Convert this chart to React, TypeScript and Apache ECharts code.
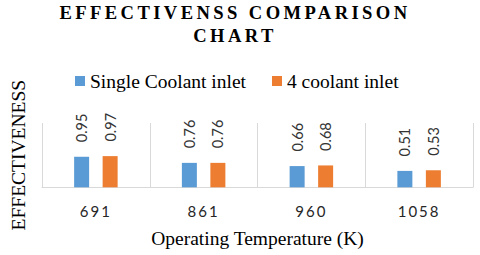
import React, { useEffect, useRef } from "react";
import * as echarts from "echarts";

const titleLines = ["EFFECTIVENSS COMPARISON", "CHART"];
const categories = ["691", "861", "960", "1058"];
const seriesNames = ["Single Coolant inlet", "4 coolant inlet"];
const singleInlet = [0.95, 0.76, 0.66, 0.51];
const fourInlet = [0.97, 0.76, 0.68, 0.53];
const yAxisName = "EFFECTIVENESS";
const xAxisName = "Operating Temperature (K)";

const SERIF = "Liberation Serif";
const SANS = "Lato";

function applySpacing(el: HTMLDivElement) {
  const texts = el.querySelectorAll("svg text");
  texts.forEach((t) => {
    const s = (t.textContent || "").trim();
    if (titleLines.includes(s)) {
      (t as SVGTextElement).style.letterSpacing = "3.4px";
    } else if (categories.includes(s)) {
      (t as SVGTextElement).style.letterSpacing = "2px";
    }
  });
}

export default function App() {
  const ref = useRef<HTMLDivElement>(null);
  useEffect(() => {
    if (!ref.current) return;
    const chart = echarts.init(ref.current, null, { renderer: "svg" });
    const labelCfg = {
      show: true,
      position: "top" as const,
      rotate: 90,
      align: "left" as const,
      verticalAlign: "middle" as const,
      distance: 14.5,
      fontFamily: SANS,
      fontSize: 14.5,
      color: "#333333",
    };
    chart.setOption({
      animation: false,
      title: {
        text: titleLines.join("\n"),
        left: 235,
        top: 1,
        textAlign: "center",
        padding: 0,
        textStyle: {
          fontFamily: SERIF,
          fontWeight: "bold",
          fontSize: 18.6,
          lineHeight: 23.2,
          color: "#000",
        },
      },
      legend: {
        data: seriesNames,
        left: 75,
        top: 71,
        padding: 0,
        itemWidth: 10,
        itemHeight: 10,
        itemGap: 26,
        icon: "rect",
        textStyle: { fontFamily: SERIF, fontSize: 19.5, color: "#000" },
      },
      grid: { left: 24, right: 7, top: 123, bottom: 67.7, containLabel: false },
      xAxis: {
        type: "category",
        data: categories,
        name: xAxisName,
        nameLocation: "middle",
        nameGap: 41.5,
        nameTextStyle: { fontFamily: SERIF, fontSize: 19.5, color: "#000" },
        axisLine: { show: true, lineStyle: { color: "#d9d9d9", width: 1 } },
        axisTick: { show: false },
        splitLine: { show: true, lineStyle: { color: "#d9d9d9", width: 1 } },
        axisLabel: {
          margin: 16,
          fontFamily: SANS,
          fontSize: 15,
          color: "#262626",
        },
      },
      yAxis: {
        type: "value",
        min: 0,
        max: 2,
        name: yAxisName,
        nameLocation: "middle",
        nameRotate: 90,
        nameGap: 14,
        nameTextStyle: { fontFamily: SERIF, fontSize: 19.5, color: "#000" },
        axisLine: { show: false },
        axisTick: { show: false },
        axisLabel: { show: false },
        splitLine: { show: false },
      },
      series: [
        {
          name: seriesNames[0],
          type: "bar",
          data: singleInlet,
          barWidth: 15,
          barGap: "90%",
          itemStyle: { color: "#5B9BD5" },
          label: labelCfg,
        },
        {
          name: seriesNames[1],
          type: "bar",
          data: fourInlet,
          barWidth: 15,
          barGap: "90%",
          itemStyle: { color: "#ED7D31" },
          label: labelCfg,
        },
      ],
    });
    const el = ref.current;
    applySpacing(el);
    chart.on("finished", () => applySpacing(el));
    const t = setTimeout(() => applySpacing(el), 50);
    return () => {
      clearTimeout(t);
      chart.dispose();
    };
  }, []);
  return (
    <div
      ref={ref}
      style={{ position: "fixed", left: 0, top: 0, width: 480, height: 255, background: "#fff" }}
    />
  );
}
